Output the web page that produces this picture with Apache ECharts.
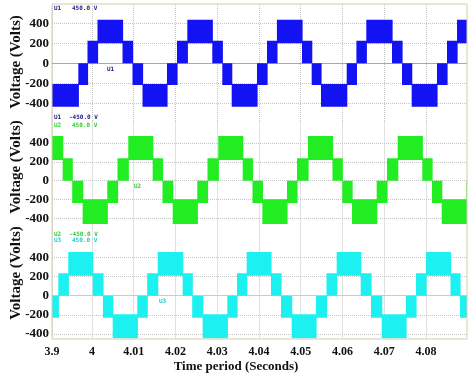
<!DOCTYPE html>
<html><head><meta charset="utf-8">
<script src="https://cdn.jsdelivr.net/npm/echarts@6/dist/echarts.min.js"></script>
<style>html,body{margin:0;padding:0;background:#fff}#c{width:474px;height:379px}</style>
</head><body><div id="c"></div><script>
// ---- axis ticks ----
const xTickValues = [3.99042, 4.00, 4.01, 4.02, 4.03, 4.04, 4.05, 4.06, 4.07, 4.08];
const xTickLabels = ['3.9', '4', '4.01', '4.02', '4.03', '4.04', '4.05', '4.06', '4.07', '4.08'];
const yTickValues = [-400, -200, 0, 200, 400];
const yTickLabels = ['-400', '-200', '0', '200', '400'];

// ---- U1 (blue): band edge times (s) and band at each interval ----
// T = upper PWM band, P = 0..+step, N = -step..0, B = lower PWM band
const u1Edges = [3.99042, 3.99672, 3.99892, 4.00132, 4.00731, 4.00970, 4.01210, 4.01796, 4.02036, 4.02283,
  4.02881, 4.03121, 4.03346, 4.03952, 4.04192, 4.04429, 4.05030, 4.05262, 4.05485, 4.06101,
  4.06333, 4.06570, 4.07186, 4.07425, 4.07657, 4.08263, 4.08503, 4.08743, 4.08982];
const u1Bands = ['B','N','P','T','P','N','B','N','P','T','P','N','B','N','P','T','P','N','B','N','P','T','P','N','B','N','P','T'];
const u1Levels = { T: [200, 436], P: [0, 226], N: [-217, 0], B: [-434, -207] };

// ---- U2 (green) ----
const u2Edges = [3.99042, 3.99298, 3.99526, 3.99777, 4.00366, 4.00611, 4.00869, 4.01454, 4.01689, 4.01933,
  4.02522, 4.02766, 4.03025, 4.03610, 4.03844, 4.04081, 4.04671, 4.04910, 4.05174, 4.05760,
  4.05995, 4.06228, 4.06819, 4.07066, 4.07322, 4.07911, 4.08144, 4.08376, 4.08968, 4.08982];
const u2Bands = ['T','P','N','B','N','P','T','P','N','B','N','P','T','P','N','B','N','P','T','P','N','B','N','P','T','P','N','B','N'];
const u2Levels = { T: [219, 473], P: [0, 237], N: [-237, 0], B: [-458, -197] };

// ---- U3 (cyan) ----
const u3Edges = [3.99042, 3.99193, 3.99432, 4.00017, 4.00263, 4.00496, 4.01085, 4.01322, 4.01574, 4.02172,
  4.02400, 4.02651, 4.03241, 4.03473, 4.03705, 4.04287, 4.04527, 4.04783, 4.05365, 4.05617,
  4.05861, 4.06436, 4.06683, 4.06939, 4.07521, 4.07760, 4.08000, 4.08587, 4.08814, 4.08982];
const u3Bands = ['N','P','T','P','N','B','N','P','T','P','N','B','N','P','T','P','N','B','N','P','T','P','N','B','N','P','T','P','N'];
const u3Levels = { T: [209, 457], P: [0, 234], N: [-230, 0], B: [-445, -194] };

const X_MIN = 3.99042, X_MAX = 4.08982;

function buildBands(edges, bands, levels) {
  return bands.map((b, i) => [edges[i], edges[i + 1], levels[b][0], levels[b][1]]);
}

function bandSeries(idx, data, color) {
  return {
    type: 'custom', xAxisIndex: idx, yAxisIndex: idx, clip: true, silent: true,
    data: data,
    renderItem: (params, api) => {
      const a = api.coord([api.value(0), api.value(3)]);
      const b = api.coord([api.value(1), api.value(2)]);
      return { type: 'rect', shape: { x: a[0], y: a[1], width: b[0] - a[0] + 0.6, height: b[1] - a[1] },
        style: { fill: color, stroke: null } };
    }
  };
}

const serifBold = 'bold';
const labelFor = v => { const i = xTickValues.findIndex(t => Math.abs(t - v) < 1e-7); return i >= 0 ? xTickLabels[i] : ''; };
const yLabelFor = v => { const i = yTickValues.indexOf(Math.round(v)); return i >= 0 ? yTickLabels[i] : ''; };

function xAx(gi, showLabels, line) {
  return {
    type: 'value', gridIndex: gi, min: X_MIN, max: X_MAX,
    axisLine: line ? { show: true, lineStyle: { color: line, width: 1 } } : { show: false },
    axisTick: { show: false, customValues: xTickValues },
    axisLabel: { show: showLabels, customValues: xTickValues, formatter: labelFor, margin: 7,
      fontFamily: 'Liberation Serif', fontWeight: 'bold', fontSize: 12, color: '#111' },
    splitLine: { show: true, lineStyle: { type: 'dotted', color: '#c4c4c4', width: 1 } }
  };
}
function yAx(gi, min, max) {
  return {
    type: 'value', gridIndex: gi, min: min, max: max,
    axisLine: { show: false }, axisTick: { show: false, customValues: yTickValues },
    axisLabel: { customValues: yTickValues, formatter: yLabelFor, margin: 3,
      fontFamily: 'Liberation Serif', fontWeight: 'bold', fontSize: 13, color: '#111' },
    splitLine: { show: true, lineStyle: { type: 'dotted', color: '#c4c4c4', width: 1 } }
  };
}

const mono = { fontFamily: 'DejaVu Sans Mono', fontSize: 6, fontWeight: 'bold' };
function txt(x, y, s, color, extra) {
  return Object.assign({ type: 'text', left: x, top: y, silent: true,
    style: Object.assign({ text: s, fill: color, font: 'bold 6px "DejaVu Sans Mono"' }, extra || {}) });
}
function vname(cx, cy) {
  return { type: 'text', x: cx, y: cy, rotation: Math.PI / 2, silent: true,
    style: { text: 'Voltage (Volts)', fill: '#111', font: 'bold 15px "Liberation Serif"', align: 'center', verticalAlign: 'middle' } };
}

const chart = echarts.init(document.getElementById('c'), null, { renderer: 'canvas' });
chart.setOption({
  animation: false,
  backgroundColor: '#fff',
  grid: [
    { left: 52, right: 7, top: 4, height: 117.5 },
    { left: 52, right: 7, top: 121.5, height: 116 },
    { left: 52, right: 7, top: 237.5, height: 101.5 },
    { left: 52, right: 7, top: 4, height: 335, show: true, borderColor: '#d4cfa8', borderWidth: 1, z: 5 }
  ],
  xAxis: [
    xAx(0, false, '#a8a8a8'), xAx(1, false, null), xAx(2, true, '#d4cfa8'),
    { type: 'value', gridIndex: 3, show: false, min: 0, max: 1 }
  ],
  yAxis: [
    yAx(0, -582, 593), yAx(1, -601, 626), yAx(2, -452, 608),
    { type: 'value', gridIndex: 3, show: false, min: 0, max: 1 }
  ],
  series: [
    bandSeries(0, buildBands(u1Edges, u1Bands, u1Levels), '#1212f2'),
    bandSeries(1, buildBands(u2Edges, u2Bands, u2Levels), '#22ec22'),
    bandSeries(2, buildBands(u3Edges, u3Bands, u3Levels), '#1cf0f0')
  ],
  graphic: [
    vname(16, 62), vname(16, 167), vname(16, 273),
    { type: 'text', x: 236, y: 367, silent: true,
      style: { text: 'Time period (Seconds)', fill: '#111', font: 'bold 13px "Liberation Serif"', align: 'center', verticalAlign: 'middle' } },
    txt(54, 5, 'U1', '#1a1a8c'), txt(72, 5, '450.0 V', '#1a1a8c'),
    txt(54, 114, 'U1', '#1a1a8c'), txt(69, 114, '-450.0 V', '#1a1a8c'),
    txt(54, 122, 'U2', '#33cc33'), txt(72, 122, '450.0 V', '#33cc33'),
    txt(54, 231, 'U2', '#33cc33'), txt(69, 231, '-450.0 V', '#33cc33'),
    txt(54, 237, 'U3', '#22cccc'), txt(72, 237, '450.0 V', '#22cccc'),
    txt(107, 66, 'U1', '#1a1a8c'),
    txt(134, 183, 'U2', '#33cc33'),
    txt(159, 298, 'U3', '#22cccc', { stroke: null })
  ]
});
</script></body></html>
